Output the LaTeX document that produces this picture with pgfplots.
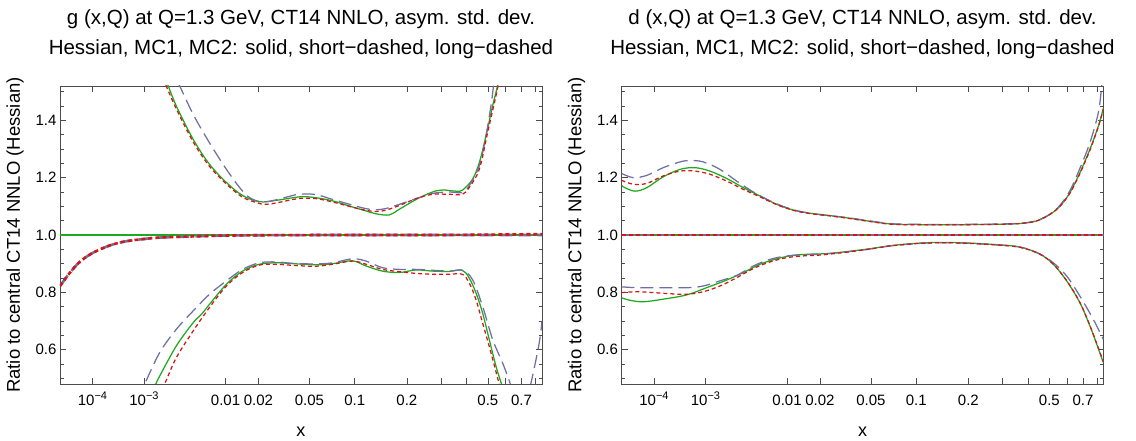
\documentclass[border=0pt]{standalone}
\usepackage{fontspec}
\setmainfont{Liberation Sans}
\usepackage{pgfplots}
\pgfplotsset{compat=1.18}

\definecolor{cgreen}{RGB}{30,170,30}
\definecolor{cred}{RGB}{215,20,20}
\definecolor{cblue}{RGB}{110,112,162}

\newcommand{\tl}{\fontsize{15}{17}\selectfont}
\newcommand{\ep}[1]{10\raisebox{0.42em}{\fontsize{11}{11}\selectfont −#1}}

\pgfplotsset{
  ctframe/.style={
    scale only axis, width=482pt, height=298pt,
    xmin=1e-5, xmax=0.85, ymin=0.48, ymax=1.52,
    % x axis scaled as x^0.2
    x coord trafo/.code={\begingroup\pgfkeys{/pgf/fpu=true,/pgf/fpu/output format=fixed}\pgfmathparse{(##1)^0.2}\pgfmathsmuggle\pgfmathresult\endgroup},
    xtick={1e-4,0.001,0.01,0.02,0.05,0.1,0.2,0.3,0.4,0.5,0.6,0.7,0.8},
    xticklabels={\ep{4},\ep{3},0.01,0.02,0.05,0.1,0.2,,,0.5,,0.7,},
    ytick={0.6,0.8,1.0,1.2,1.4},
    yticklabels={0.6,0.8,1.0,1.2,1.4},
    minor ytick={0.5,0.55,0.65,0.7,0.75,0.85,0.9,0.95,1.05,1.1,1.15,1.25,1.3,1.35,1.45,1.5},
    xtick pos=both, ytick pos=both, xticklabel pos=lower, yticklabel pos=left,
    tick align=inside, major tick length=6pt, minor tick length=3.5pt,
    axis line style={black!70, line width=0.8pt},
    tick style={black!70, line width=0.7pt},
    xticklabel style={anchor=base, yshift=-22pt, font=\tl},
    yticklabel style={font=\tl},
    xlabel={x}, ylabel={Ratio to central CT14 NNLO (Hessian)},
    xlabel style={at={(axis description cs:0.5,-0.161)}, anchor=center, font=\fontsize{18}{20}\selectfont},
    ylabel style={at={(axis description cs:-0.0932,0.5)}, anchor=center, font=\fontsize{18.5}{20}\selectfont},
  },
  band/.style={smooth, tension=0.55, line width=1.25pt, mark=none},
  hes/.style={band, cgreen},
  mc1/.style={band, cred, dash pattern=on 4pt off 3pt},
  mc2/.style={band, cblue, dash pattern=on 13pt off 6pt},
  cen/.style={line width=2.6pt},
}

\begin{document}
\begin{tikzpicture}
\useasboundingbox (0,0) rectangle (1136pt,441pt);

% ---------------- gluon ----------------
\begin{axis}[ctframe, at={(60pt,57pt)}, anchor=south west]
\addplot[hes, cen] coordinates {(1e-5,1) (0.85,1)};
\addplot[mc2, cen] coordinates {(1e-5,0.822) (2.3e-5,0.869) (4.6e-5,0.906) (1e-4,0.937) (2.5e-4,0.964) (5e-4,0.978) (1e-3,0.986) (1.7e-3,0.991) (4.5e-3,0.995) (0.01,0.998) (0.03,0.9995) (0.1,1.0) (0.3,1.0) (0.85,1.0)};
\addplot[mc1, cen] coordinates {(1e-5,0.822) (2.3e-5,0.869) (4.6e-5,0.906) (1e-4,0.937) (2.5e-4,0.964) (5e-4,0.978) (1e-3,0.986) (1.7e-3,0.991) (4.5e-3,0.995) (0.01,0.998) (0.03,0.9995) (0.1,1.0) (0.3,1.0) (0.85,1.003)};
% upper
\addplot[hes] coordinates {(1.71e-3,1.59) (2.23e-3,1.52) (2.84e-3,1.45) (4.53e-3,1.334) (6.85e-3,1.247) (0.0102,1.183) (0.0145,1.138) (0.0204,1.116) (0.0281,1.121) (0.0378,1.130) (0.045,1.134) (0.0556,1.130) (0.0723,1.119) (0.0925,1.101) (0.117,1.084) (0.134,1.074) (0.160,1.070) (0.182,1.090) (0.224,1.124) (0.272,1.150) (0.306,1.157) (0.355,1.153) (0.381,1.156) (0.425,1.194) (0.457,1.252) (0.490,1.345) (0.525,1.45) (0.552,1.52) (0.58,1.60)};
\addplot[mc2] coordinates {(2.3e-3,1.59) (3.13e-3,1.52) (4.53e-3,1.421) (6.85e-3,1.322) (0.0102,1.229) (0.0145,1.153) (0.018,1.124) (0.0234,1.116) (0.0378,1.138) (0.0426,1.143) (0.0556,1.141) (0.0723,1.124) (0.117,1.092) (0.146,1.090) (0.182,1.107) (0.224,1.127) (0.272,1.145) (0.330,1.150) (0.381,1.148) (0.410,1.171) (0.457,1.241) (0.490,1.345) (0.516,1.45) (0.530,1.52) (0.55,1.62)};
\addplot[mc1] coordinates {(1.6e-3,1.59) (2.1e-3,1.52) (2.84e-3,1.44) (4.53e-3,1.325) (6.85e-3,1.24) (0.0102,1.178) (0.0145,1.132) (0.0204,1.110) (0.0234,1.107) (0.0281,1.112) (0.0378,1.124) (0.0426,1.128) (0.0556,1.127) (0.0723,1.115) (0.117,1.086) (0.146,1.084) (0.182,1.103) (0.224,1.127) (0.272,1.142) (0.330,1.142) (0.381,1.142) (0.410,1.165) (0.457,1.229) (0.4985,1.357) (0.534,1.46) (0.555,1.52) (0.58,1.60)};
% lower
\addplot[hes] coordinates {(1.23e-3,0.44) (1.5e-3,0.48) (1.71e-3,0.508) (2.84e-3,0.613) (4.53e-3,0.694) (5.62e-3,0.723) (6.85e-3,0.758) (0.0102,0.828) (0.0145,0.874) (0.0204,0.898) (0.0281,0.903) (0.0378,0.900) (0.0556,0.896) (0.0723,0.900) (0.0966,0.910) (0.117,0.892) (0.146,0.874) (0.182,0.869) (0.224,0.878) (0.272,0.874) (0.330,0.873) (0.381,0.877) (0.410,0.851) (0.441,0.799) (0.473,0.729) (0.507,0.636) (0.543,0.543) (0.575,0.479) (0.60,0.43)};
\addplot[mc2] coordinates {(8e-4,0.43) (1.025e-3,0.48) (1.71e-3,0.590) (2.84e-3,0.671) (4.53e-3,0.735) (6.85e-3,0.793) (0.0102,0.840) (0.0145,0.880) (0.0204,0.903) (0.0281,0.906) (0.0378,0.901) (0.0556,0.899) (0.0723,0.903) (0.0966,0.917) (0.117,0.909) (0.146,0.886) (0.182,0.880) (0.224,0.880) (0.272,0.877) (0.330,0.874) (0.381,0.877) (0.425,0.845) (0.473,0.752) (0.525,0.636) (0.580,0.555) (0.621,0.491) (0.67,0.41) (0.72,0.40) (0.765,0.48) (0.827,0.62) (0.85,0.70)};
\addplot[mc1] coordinates {(1.71e-3,0.44) (2.0e-3,0.48) (2.84e-3,0.572) (4.53e-3,0.665) (6.85e-3,0.747) (0.0102,0.822) (0.0145,0.869) (0.0204,0.895) (0.0281,0.898) (0.0378,0.894) (0.0556,0.891) (0.0723,0.898) (0.0966,0.909) (0.117,0.898) (0.146,0.880) (0.182,0.872) (0.224,0.866) (0.272,0.863) (0.330,0.863) (0.381,0.863) (0.410,0.834) (0.441,0.776) (0.473,0.694) (0.516,0.590) (0.562,0.479) (0.59,0.42)};
\end{axis}

% ---------------- d quark ----------------
\begin{axis}[ctframe, at={(621.5pt,57pt)}, anchor=south west]
\addplot[hes, cen] coordinates {(1e-5,1) (0.85,1)};
\addplot[mc2, cen] coordinates {(1e-5,1) (0.85,1)};
\addplot[mc1, cen] coordinates {(1e-5,1) (0.85,1)};
% upper
\addplot[hes] coordinates {(1e-5,1.173) (1.36e-5,1.165) (2.97e-5,1.153) (6.5e-5,1.165) (1.65e-4,1.203) (3.66e-4,1.229) (6.75e-4,1.235) (1.17e-3,1.223) (2.04e-3,1.197) (3.33e-3,1.165) (5.22e-3,1.136) (7.88e-3,1.107) (0.0115,1.087) (0.0163,1.076) (0.0229,1.069) (0.033,1.060) (0.0492,1.048) (0.0713,1.038) (0.116,1.036) (0.18,1.036) (0.27,1.037) (0.365,1.040) (0.437,1.049) (0.503,1.072) (0.558,1.101) (0.616,1.148) (0.679,1.217) (0.748,1.299) (0.810,1.380) (0.85,1.444)};
\addplot[mc2] coordinates {(1e-5,1.215) (2.62e-5,1.200) (6.5e-5,1.208) (1.65e-4,1.235) (3.66e-4,1.255) (5.56e-4,1.260) (9.26e-4,1.255) (1.64e-3,1.229) (2.75e-3,1.188) (4.38e-3,1.150) (6.7e-3,1.119) (0.01,1.095) (0.0142,1.080) (0.02,1.071) (0.033,1.061) (0.0492,1.049) (0.0713,1.039) (0.116,1.037) (0.18,1.037) (0.27,1.038) (0.365,1.041) (0.437,1.050) (0.503,1.073) (0.558,1.104) (0.616,1.155) (0.679,1.232) (0.748,1.322) (0.81,1.427) (0.836,1.52) (0.85,1.57)};
\addplot[mc1] coordinates {(1e-5,1.191) (2.62e-5,1.177) (6.5e-5,1.180) (1.65e-4,1.206) (3.66e-4,1.223) (6.75e-4,1.223) (1.17e-3,1.212) (2.04e-3,1.188) (3.33e-3,1.159) (5.22e-3,1.133) (7.88e-3,1.106) (0.0115,1.086) (0.0163,1.075) (0.0229,1.068) (0.033,1.059) (0.0492,1.047) (0.0713,1.037) (0.116,1.036) (0.18,1.036) (0.27,1.037) (0.365,1.040) (0.437,1.049) (0.503,1.072) (0.558,1.101) (0.616,1.146) (0.679,1.214) (0.748,1.296) (0.810,1.378) (0.85,1.44)};
% lower
\addplot[hes] coordinates {(1e-5,0.781) (2.04e-5,0.772) (5.25e-5,0.767) (1.65e-4,0.776) (4.87e-4,0.791) (1.04e-3,0.816) (2.04e-3,0.843) (3.33e-3,0.869) (5.22e-3,0.898) (7.88e-3,0.917) (0.0115,0.929) (0.0163,0.933) (0.0229,0.935) (0.033,0.942) (0.0492,0.952) (0.0713,0.964) (0.116,0.973) (0.18,0.973) (0.27,0.967) (0.365,0.958) (0.453,0.933) (0.521,0.898) (0.596,0.840) (0.679,0.764) (0.748,0.683) (0.798,0.619) (0.849,0.555)};
\addplot[mc2] coordinates {(1e-5,0.819) (3.35e-5,0.816) (9.62e-5,0.816) (4.87e-4,0.816) (9.26e-4,0.822) (1.64e-3,0.840) (2.75e-3,0.859) (4.38e-3,0.892) (6.7e-3,0.915) (0.01,0.927) (0.0142,0.931) (0.02,0.933) (0.033,0.941) (0.0492,0.951) (0.0713,0.963) (0.116,0.972) (0.18,0.972) (0.27,0.966) (0.365,0.958) (0.453,0.934) (0.521,0.903) (0.596,0.857) (0.679,0.787) (0.772,0.706) (0.849,0.636)};
\addplot[mc1] coordinates {(1e-5,0.799) (3.35e-5,0.802) (9.62e-5,0.799) (2.3e-4,0.795) (4.87e-4,0.793) (9.26e-4,0.802) (1.64e-3,0.822) (2.75e-3,0.851) (4.38e-3,0.883) (6.7e-3,0.906) (0.01,0.921) (0.0142,0.927) (0.02,0.930) (0.033,0.940) (0.0492,0.951) (0.0713,0.963) (0.116,0.972) (0.18,0.972) (0.27,0.966) (0.365,0.957) (0.453,0.933) (0.521,0.898) (0.596,0.841) (0.679,0.765) (0.748,0.684) (0.798,0.621) (0.849,0.557)};
\end{axis}

% titles
\begin{scope}[every node/.style={anchor=base, inner sep=0pt, font=\fontsize{20.5}{24}\selectfont}]
\node at (301pt,416pt) {g (x,Q) at Q=1.3 GeV, CT14 NNLO, asym. std. dev.};
\node at (301pt,386.5pt) {Hessian, MC1, MC2: solid, short−dashed, long−dashed};
\node at (862.5pt,416pt) {d (x,Q) at Q=1.3 GeV, CT14 NNLO, asym. std. dev.};
\node at (862.5pt,386.5pt) {Hessian, MC1, MC2: solid, short−dashed, long−dashed};
\end{scope}
\end{tikzpicture}
\end{document}
